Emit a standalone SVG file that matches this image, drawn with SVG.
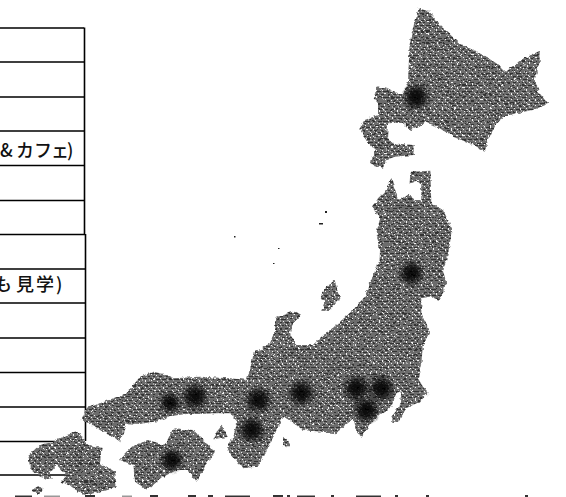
<svg xmlns="http://www.w3.org/2000/svg" width="566" height="497" viewBox="0 0 566 497">
<style>
.ln{stroke:#000;stroke-width:1.6;fill:none}
.jp{font-family:"Noto Sans CJK JP","Noto Sans",sans-serif;font-size:18px;font-weight:500;fill:#111}
.land{fill:url(#dither)}
.spot{fill:url(#dark)}
.frag{fill:#333}
</style>
<defs>
<pattern id="dither" width="6" height="6" patternUnits="userSpaceOnUse" patternTransform="scale(3)">
<rect width="6" height="6" fill="#6c6c6c"/>
<rect x="0" y="1" width="4" height="1" fill="#333"/>
<rect x="3" y="4" width="4" height="1" fill="#333"/>
<rect x="4" y="0" width="1" height="1" fill="#f4f4f4"/>
<rect x="1" y="3" width="1" height="1" fill="#f4f4f4"/>
<rect x="5" y="2" width="1" height="1" fill="#aaa"/>
<rect x="2" y="5" width="1" height="1" fill="#aaa"/>
</pattern>
<radialGradient id="dark">
<stop offset="0" stop-color="#000" stop-opacity=".93"/>
<stop offset=".4" stop-color="#000" stop-opacity=".8"/>
<stop offset="1" stop-color="#000" stop-opacity="0"/>
</radialGradient>
<filter id="rough" x="0" y="0" width="566" height="497" filterUnits="userSpaceOnUse">
<feTurbulence type="fractalNoise" baseFrequency="0.22" numOctaves="2" seed="4"/>
<feDisplacementMap in="SourceGraphic" scale="4" xChannelSelector="R" yChannelSelector="G"/>
</filter>
</defs>
<g id="table">
<path class="ln" d="M0 28H84M0 62H84M0 97H84M0 131H84M0 165.500H84M0 200.500H84M0 234.500H85M0 269H85M0 303H85M0 338H85M0 372.500H85M0 407H85M0 441.500H85M0 475H70"/>
<path class="ln" d="M84.500 27.500V234M85.500 234V441"/>
<text class="jp" y="157" x="0 16 34 51 67">&amp;カフェ)</text>
<text class="jp" y="291" x="-6 16 36 56">も見学)</text>
</g>
<g id="japan" filter="url(#rough)">
<g transform="scale(.33333)">
<polygon class="land" id="hokkaido" points="1257,25 1289,35 1319,75 1379,130 1449,165 1489,190 1514,215 1564,180 1619,152 1619,185 1604,240 1619,280 1644,312 1599,330 1549,340 1509,350 1484,380 1464,420 1454,455 1409,430 1359,410 1319,385 1279,365 1259,380 1234,390 1214,380 1214,368 1164,370 1161,415 1179,430 1241,435 1241,465 1184,470 1159,480 1149,503 1111,495 1124,450 1104,425 1077,385 1094,360 1134,345 1134,310 1121,295 1131,258 1169,270 1209,285 1224,245 1229,130 1244,60"/>
<polygon class="land" id="honshu" points="1174,537 1189,580 1199,600 1227,580 1244,600 1264,600 1264,555 1254,545 1229,550 1231,515 1291,512 1294,610 1329,630 1349,670 1354,700 1346,750 1339,780 1329,810 1339,850 1329,880 1319,900 1289,890 1264,895 1264,940 1279,970 1287,1000 1269,1035 1264,1090 1254,1135 1269,1160 1286,1178 1259,1205 1219,1225 1194,1265 1174,1265 1174,1250 1199,1220 1204,1175 1189,1180 1174,1220 1139,1245 1114,1270 1084,1310 1069,1295 1061,1255 1019,1290 1009,1300 909,1290 859,1255 849,1250 820,1310 790,1370 770,1400 730,1405 700,1375 682,1345 700,1310 712,1265 690,1240 650,1240 600,1242 560,1242 510,1248 470,1264 420,1272 380,1270 360,1325 340,1310 300,1290 265,1270 245,1260 260,1225 300,1210 380,1180 420,1130 460,1115 505,1125 520,1135 600,1130 690,1135 740,1140 755,1090 760,1060 810,1030 825,990 825,955 849,945 884,932 904,945 879,970 869,1000 889,1035 939,1035 964,1010 1009,975 1059,930 1094,890 1114,840 1139,780 1140,750 1129,700 1139,660 1119,620 1134,595 1154,575"/>
<polygon class="land" id="sado" points="1004,840 1014,875 1021,895 989,930 967,932 977,905 959,895 974,865"/>
<polygon class="land" id="awaji" points="665,1277 683,1310 640,1318 650,1295"/>
<polygon class="land" id="shikoku" points="520,1285 580,1290 610,1320 645,1355 620,1390 590,1445 565,1410 530,1410 490,1430 440,1470 405,1445 400,1395 360,1380 395,1340 445,1320 495,1335 505,1315"/>
<polygon class="land" id="kyushu" points="235,1295 262,1335 305,1340 300,1390 345,1415 350,1460 345,1465 300,1475 250,1485 215,1460 185,1445 200,1425 170,1395 150,1420 155,1440 120,1430 90,1405 85,1365 120,1335 160,1325 200,1305"/>
<polygon class="land" id="yakushima" points="95,1470 115,1458 128,1470 115,1485"/>
<polygon class="land" id="izu" points="849,1310 869,1330 864,1342 849,1338"/>
<circle class="spot" cx="1248" cy="291" r="46"/>
<circle class="spot" cx="1234" cy="820" r="44"/>
<circle class="spot" cx="510" cy="1208" r="38"/>
<circle class="spot" cx="585" cy="1190" r="46"/>
<circle class="spot" cx="775" cy="1200" r="46"/>
<circle class="spot" cx="755" cy="1290" r="46"/>
<circle class="spot" cx="515" cy="1380" r="42"/>
<circle class="spot" cx="904" cy="1180" r="46"/>
<circle class="spot" cx="1069" cy="1165" r="46"/>
<circle class="spot" cx="1144" cy="1165" r="46"/>
<circle class="spot" cx="1099" cy="1230" r="46"/>
</g>
</g>
<g id="specks" fill="#222">
<rect x="234" y="236" width="1.500" height="1.500"/>
<rect x="278" y="248" width="1.500" height="1"/>
<rect x="325" y="211" width="2" height="2"/>
<rect x="319" y="223" width="4" height="1.500"/>
<rect x="273" y="263" width="1.500" height="1"/>
</g>
<g id="bottom-fragments" class="frag">
<rect x="15" y="495.500" width="17" height="1.500"/>
<rect x="44" y="495.500" width="16" height="1.500" opacity=".5"/>
<rect x="85" y="495" width="10" height="2"/>
<rect x="122" y="495.500" width="10" height="1.500" opacity=".5"/>
<rect x="150" y="495" width="8" height="2"/>
<rect x="188" y="495" width="8" height="2"/>
<rect x="208" y="495" width="5" height="2"/>
<rect x="225" y="495.500" width="25" height="1.500"/>
<rect x="273" y="495" width="10" height="2"/>
<rect x="287" y="495" width="3" height="2"/>
<rect x="297" y="495.500" width="18" height="1.500"/>
<rect x="331" y="495" width="3" height="2"/>
<rect x="356" y="495.500" width="25" height="1.500"/>
<rect x="395" y="495" width="3" height="2"/>
<rect x="426" y="495" width="3" height="2"/>
<rect x="525" y="495" width="3" height="2"/>
</g>
</svg>
